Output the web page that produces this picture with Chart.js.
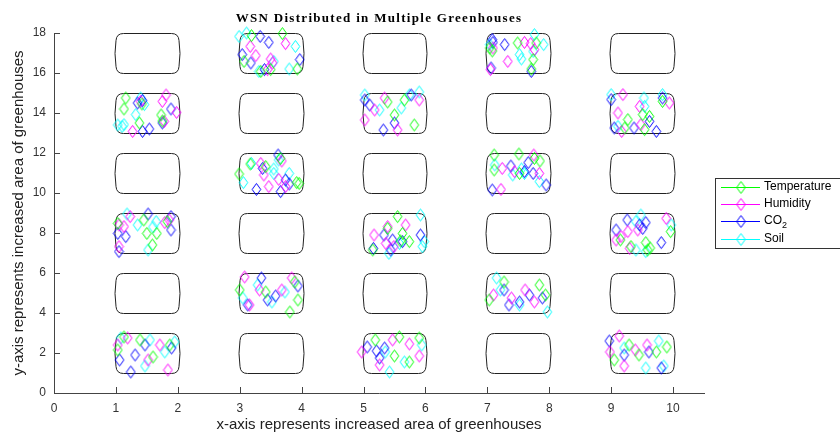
<!DOCTYPE html>
<html><head><meta charset="utf-8">
<script src="https://cdn.jsdelivr.net/npm/chart.js@4"></script>
<style>html,body{margin:0;padding:0;background:#fff;}#wrap{width:840px;height:435px;}</style>
</head><body><div id="wrap"><canvas id="c" width="840" height="435"></canvas></div>
<script>
const xTicks = [0,1,2,3,4,5,6,7,8,9,10];
const yTicks = [0,2,4,6,8,10,12,14,16,18];
const greenhouseX = [1,3,5,7,9];
const greenhouseY = [1,4,7,10,13,16];
const seriesNames = ['Temperature','Humidity','CO2','Soil'];

const temperature = [
[1.16,14.75],[1.13,14.2],[1.38,13.5],[1.73,13.9],[1.75,13.6],[1.42,14.45],
[3.19,17.87],[3.69,17.97],[3.07,16.58],[3.34,16.08],[3.93,16.2],[3.5,16.17],
[7.04,17.25],[7.49,17.5],[7.79,17.5],[7.74,16.67],[7.71,16.2],[7.08,17.1],
[9.51,13.92],[9.62,13.83],[9.83,14.58],[9.27,13.67],[9.54,13.17],[9.22,13.25],
[1.45,8.65],[1.5,7.98],[1.66,7.98],[1.59,7.4],[1.83,8.57],[1.03,8.48],
[3.66,11.73],[3.42,11.32],[2.99,10.95],[3.92,10.52],[3.96,10.48],[3.17,11.45],
[5.55,8.82],[5.63,7.98],[5.74,7.57],[5.39,8.23],[5.15,7.15],[5.6,7.6],
[7.11,11.9],[7.51,11.95],[7.76,11.73],[7.11,11.15],[7.52,10.98],[7.85,11.6],
[9.15,7.65],[9.96,8.07],[9.56,7.52],[9.59,7.15],[9.32,7.32],[9.63,7.25],
[5.66,14.65],[5.5,13.9],[5.82,13.4],[5.39,14.55],
[3.89,5.55],[3.94,4.65],[3.42,5.05],[3.81,4.05],[3.0,5.15],
[7.03,4.65],[7.84,5.4],[7.94,4.9],[7.27,5.55],
[1.13,2.8],[1.39,2.65],[1.87,2.4],[1.6,1.8],[1.03,2.15],
[5.19,2.65],[5.58,2.8],[5.5,1.85],[5.74,1.55],[5.9,2.75],
[9.05,1.65],[9.45,1.9],[9.73,2.05],[9.29,2.4],[9.9,2.3]
];
const humidity = [
[1.4,14.58],[1.75,14.58],[1.81,14.9],[1.27,13.08],[1.98,14.03],[1.78,13.58],
[3.17,17.33],[3.74,17.47],[3.26,16.87],[3.5,16.7],[3.45,16.17],[3.53,16.5],
[7.09,17.25],[7.33,16.58],[7.6,17.53],[7.7,17.47],[7.05,16.17],[7.76,17.17],
[9.19,14.92],[9.46,14.33],[9.11,14.0],[9.94,14.5],[9.48,13.42],[9.17,13.08],
[1.23,8.82],[1.05,8.4],[1.13,8.32],[1.79,8.52],[1.05,7.32],[1.86,8.65],
[3.34,11.48],[3.39,10.9],[3.47,10.32],[3.63,10.68],[3.74,10.32],[3.68,11.6],
[5.17,7.9],[5.39,8.32],[5.68,8.4],[5.36,7.48],[5.49,7.32],
[7.24,11.23],[7.75,11.9],[7.84,10.98],[7.22,10.18],[7.44,11.07],
[9.08,7.65],[9.27,8.07],[9.89,8.73],[9.16,7.82],[9.3,7.23],[9.43,8.15],
[5.18,14.15],[5.55,13.15],[5.9,14.65],[5.34,14.75],[5.02,13.65],
[3.08,5.8],[3.32,5.15],[3.68,5.15],[3.16,4.4],[3.84,5.75],
[7.39,4.75],[7.61,5.15],[7.76,4.55],[7.1,4.9],
[1.03,2.4],[1.71,2.4],[1.84,1.15],[1.52,1.65],[1.19,2.75],
[4.97,2.05],[5.47,2.65],[5.74,2.45],[5.9,1.85],[5.26,1.4],
[9.13,2.85],[9.39,2.15],[9.58,2.4],[9.21,1.35],[8.98,2.05]
];
const co2 = [
[1.35,14.5],[1.43,13.08],[1.54,13.2],[1.89,14.2],[1.75,13.5],[1.43,14.63],
[3.33,17.83],[3.47,17.53],[3.04,16.92],[3.18,16.5],[3.97,16.67],[3.4,16.17],
[7.08,17.67],[7.28,17.42],[7.06,16.25],[7.71,16.08],[7.09,17.53],
[9.0,14.67],[9.83,14.75],[9.05,13.25],[9.37,13.25],[9.62,13.58],[9.73,13.08],
[1.03,7.98],[1.16,7.82],[1.52,8.95],[1.89,8.82],[1.89,8.15],[1.05,7.07],
[3.62,11.9],[3.37,11.23],[3.27,10.18],[3.66,10.07],[3.74,10.65],[3.8,10.45],
[5.33,7.9],[5.47,7.65],[5.63,7.57],[5.92,7.9],[5.16,7.23],[5.44,7.15],
[7.38,11.35],[7.66,11.52],[7.6,11.07],[7.74,10.98],[7.95,10.4],[7.08,10.15],
[9.26,8.65],[9.08,8.15],[9.46,8.4],[9.56,8.52],[9.51,8.23],[9.81,7.52],
[5.02,14.65],[5.32,13.15],[5.5,13.5],[5.77,14.9],[5.1,14.4],
[3.45,4.65],[3.13,4.4],[3.58,4.85],[3.94,5.35],[3.35,5.75],
[7.27,5.15],[7.52,4.55],[7.68,4.9],[7.89,4.75],[7.35,4.4],
[1.06,1.65],[1.31,1.9],[1.24,1.05],[1.9,2.25],[1.47,2.4],
[5.06,2.3],[5.21,2.1],[5.34,2.25],[5.26,1.75],
[8.97,2.6],[9.21,1.9],[9.81,1.25],[9.61,2.05]
];
const soil = [
[1.4,14.75],[1.32,13.92],[1.13,13.42],[1.1,13.33],[1.46,14.42],[1.03,13.4],
[2.99,17.83],[3.11,18.0],[3.9,17.33],[3.8,16.2],[3.31,16.08],[3.55,16.58],
[7.76,17.92],[7.91,17.42],[7.52,16.92],[7.55,16.7],[7.74,17.08],[7.04,17.42],
[9.0,14.92],[9.53,14.75],[9.83,14.92],[9.11,13.33],[9.54,14.33],
[1.18,8.95],[1.35,8.4],[1.65,8.57],[1.52,7.15],[1.6,8.3],
[3.19,11.48],[3.06,10.52],[3.55,10.98],[3.8,10.98],[3.63,11.65],[3.55,11.2],
[5.92,8.9],[5.98,7.57],[5.95,7.32],[5.41,6.98],[5.58,7.48],
[7.12,11.4],[7.41,10.9],[7.6,10.98],[7.84,10.57],[7.55,11.2],
[9.48,8.9],[9.4,8.57],[9.97,8.4],[9.4,7.15],[9.56,7.07],
[5.74,14.9],[5.9,15.05],[5.02,14.9],[5.26,14.15],[5.61,14.25],
[3.29,5.4],[3.73,5.05],[3.52,4.55],[3.05,4.75],
[7.15,5.75],[7.21,5.15],[7.97,4.05],[7.52,4.4],
[1.55,2.65],[1.79,2.05],[1.47,1.35],[1.95,2.55],[1.08,2.75],
[5.42,1.05],[5.35,2.05],[5.66,1.55],[5.94,2.4],
[9.21,2.25],[9.77,2.6],[9.85,1.35],[9.56,1.25]
];

const colors = ['#00ff00','#ff00ff','#0000ff','#00ffff'];
const seriesData = [temperature, humidity, co2, soil];

function makeDiamond(color){
  const c = document.createElement('canvas');
  c.width = 11; c.height = 15;
  const g = c.getContext('2d');
  g.strokeStyle = color; g.lineWidth = 1;
  g.beginPath();
  g.moveTo(5.5,1.5); g.lineTo(9.8,7.5); g.lineTo(5.5,13.5); g.lineTo(1.2,7.5); g.closePath();
  g.stroke();
  return c;
}
const diamonds = colors.map(makeDiamond);

const FONT = '"Liberation Sans", Arial, sans-serif';

const greenhousePlugin = {
  id: 'greenhouses',
  beforeDatasetsDraw(chart){
    const {ctx, scales:{x, y}} = chart;
    ctx.save();
    ctx.strokeStyle = '#222';
    ctx.lineWidth = 1;
    greenhouseX.forEach(gx => {
      greenhouseY.forEach(gy => {
        const x0 = Math.round(x.getPixelForValue(gx)) + 0.5;
        const x1 = Math.round(x.getPixelForValue(gx + 1)) + 0.5;
        const yt = Math.round(y.getPixelForValue(gy + 2)) + 0.5;
        const yb = Math.round(y.getPixelForValue(gy)) + 0.5;
        const r = 7, b = 2.5, my = (yt + yb) / 2;
        ctx.beginPath();
        ctx.moveTo(x0 + r, yt);
        ctx.lineTo(x1 - r, yt);
        ctx.quadraticCurveTo(x1, yt, x1 + 0.5, yt + r);
        ctx.quadraticCurveTo(x1 + b, my, x1 + 0.5, yb - r);
        ctx.quadraticCurveTo(x1, yb, x1 - r, yb);
        ctx.lineTo(x0 + r, yb);
        ctx.quadraticCurveTo(x0, yb, x0 - 0.5, yb - r);
        ctx.quadraticCurveTo(x0 - b, my, x0 - 0.5, yt + r);
        ctx.quadraticCurveTo(x0, yt, x0 + r, yt);
        ctx.closePath();
        ctx.stroke();
      });
    });
    ctx.restore();
  },
  afterDraw(chart){
    const {ctx, scales:{x, y}} = chart;
    ctx.save();
    ctx.strokeStyle = '#444'; ctx.lineWidth = 1;
    ctx.beginPath();
    xTicks.forEach(v => {
      const px = Math.round(x.getPixelForValue(v)) + 0.5;
      ctx.moveTo(px, y.bottom); ctx.lineTo(px, y.bottom - 6);
    });
    yTicks.forEach(v => {
      const py = Math.round(y.getPixelForValue(v)) + 0.5;
      ctx.moveTo(x.left, py); ctx.lineTo(x.left + 6, py);
    });
    ctx.stroke();
    ctx.fillStyle = '#000';
    ctx.font = 'bold 13px "Liberation Serif", "Times New Roman", serif';
    ctx.textAlign = 'center'; ctx.textBaseline = 'middle';
    if ('letterSpacing' in ctx) ctx.letterSpacing = '1.3px';
    ctx.fillText('WSN Distributed in Multiple Greenhouses', (x.left + x.right) / 2, 19);
    if ('letterSpacing' in ctx) ctx.letterSpacing = '0px';
    ctx.strokeStyle = '#333';
    ctx.strokeRect(715.5, 178.5, 140, 70);
    const rows = [187, 204, 221, 239];
    ctx.textAlign = 'left';
    rows.forEach((ry, i) => {
      ctx.strokeStyle = colors[i];
      ctx.beginPath(); ctx.moveTo(721, ry + 0.5); ctx.lineTo(760, ry + 0.5); ctx.stroke();
      ctx.drawImage(diamonds[i], 741 - 5.5, ry + 0.5 - 7.5);
      ctx.fillStyle = '#000';
      ctx.font = '12px ' + FONT;
      if (seriesNames[i] === 'CO2') {
        ctx.fillText('CO', 764, ry);
        const w = ctx.measureText('CO').width;
        ctx.font = '9px ' + FONT;
        ctx.fillText('2', 764 + w, ry + 5);
      } else {
        ctx.fillText(seriesNames[i], 764, ry);
      }
    });
    ctx.restore();
  }
};

new Chart(document.getElementById('c'), {
  type: 'scatter',
  data: {
    datasets: seriesData.map((d, i) => ({
      label: seriesNames[i],
      data: d.map(p => ({x: p[0], y: p[1]})),
      pointStyle: diamonds[i],
      pointRadius: 5,
      borderColor: colors[i],
      backgroundColor: 'transparent',
      showLine: false,
      clip: false
    }))
  },
  options: {
    responsive: false,
    devicePixelRatio: 1,
    animation: false,
    layout: { padding: { top: 33, right: 136, left: 0, bottom: 0 } },
    plugins: { legend: { display: false }, tooltip: { enabled: false }, title: { display: false } },
    scales: {
      x: {
        type: 'linear', min: 0, max: 10.5,
        afterBuildTicks: s => { s.ticks = xTicks.map(v => ({value: v})); },
        afterFit: s => { s.height = 42; },
        grid: { display: false, drawTicks: false },
        border: { display: true, color: '#444', width: 1 },
        ticks: { padding: 8, color: '#333', font: { size: 12, family: FONT }, maxRotation: 0 },
        title: { display: true, text: 'x-axis represents increased area of greenhouses', color: '#222',
                 font: { size: 15, family: FONT }, padding: { top: 0, bottom: 1 } }
      },
      y: {
        type: 'linear', min: 0, max: 18,
        afterBuildTicks: s => { s.ticks = yTicks.map(v => ({value: v})); },
        afterFit: s => { s.width = 54; },
        grid: { display: false, drawTicks: false },
        border: { display: true, color: '#444', width: 1 },
        ticks: { padding: 8, color: '#333', font: { size: 12, family: FONT } },
        title: { display: true, text: 'y-axis represents increased area of greenhouses', color: '#222',
                 font: { size: 15, family: FONT }, padding: { top: 10, bottom: 0 } }
      }
    }
  },
  plugins: [greenhousePlugin]
});
</script>
</body></html>
